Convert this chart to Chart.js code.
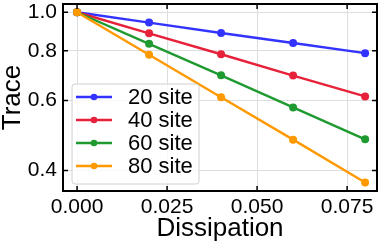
<!DOCTYPE html>
<html>
<head>
<meta charset="utf-8">
<script src="https://cdn.jsdelivr.net/npm/chart.js@4.4.0/dist/chart.umd.min.js"></script>
<style>
html, body { margin: 0; padding: 0; background: #fff; }
#wrap { width: 382px; height: 246px; }
</style>
</head>
<body>
<div id="wrap"><canvas id="chart" width="382" height="246"></canvas></div>
<script>
'use strict';

// ── Datos ────────────────────────────────────────────────
const dissipation = [0, 0.02, 0.04, 0.06, 0.08];
const seriesLabels = ['20 site', '40 site', '60 site', '80 site'];
const trace20 = [1.0, 0.942, 0.887, 0.837, 0.789];
const trace40 = [1.0, 0.885, 0.784, 0.693, 0.614];
const trace60 = [1.0, 0.833, 0.694, 0.576, 0.479];
const trace80 = [1.0, 0.782, 0.611, 0.478, 0.373];
const xTicks = [0, 0.025, 0.05, 0.075];
const yTicks = [0.4, 0.6, 0.8, 1.0];

const seriesColors = ['#3333ff', '#e8213a', '#1f9a30', '#ff9900'];
const FONT = "'Liberation Sans', Arial, sans-serif";

const seriesValues = [trace20, trace40, trace60, trace80];

// ── Marco con ticks hacia dentro ─────────────────────────
const frameTicks = {
    id: 'frameTicks',
    afterDatasetsDraw(chart) {
        const { ctx, chartArea: a, scales: { x, y } } = chart;
        const len = 5;
        ctx.save();
        ctx.strokeStyle = '#000';
        ctx.lineWidth = 1.5;
        ctx.beginPath();
        xTicks.forEach(v => {
            const px = x.getPixelForValue(v);
            ctx.moveTo(px, a.bottom); ctx.lineTo(px, a.bottom - len);
            ctx.moveTo(px, a.top); ctx.lineTo(px, a.top + len);
        });
        yTicks.forEach(v => {
            const py = y.getPixelForValue(v);
            ctx.moveTo(a.left, py); ctx.lineTo(a.left + len, py);
            ctx.moveTo(a.right, py); ctx.lineTo(a.right - len, py);
        });
        ctx.stroke();
        ctx.lineWidth = 2;
        ctx.strokeRect(a.left, a.top, a.right - a.left, a.bottom - a.top);
        ctx.restore();
    }
};

// ── Leyenda dentro del área ──────────────────────────────
const insideLegend = {
    id: 'insideLegend',
    afterDraw(chart) {
        const { ctx, chartArea: a } = chart;
        const bx = a.left + 9, by = a.top + 80, bw = 127, bh = 100;
        ctx.save();
        ctx.beginPath();
        ctx.roundRect(bx, by, bw, bh, 3);
        ctx.fillStyle = 'rgba(255,255,255,0.8)';
        ctx.fill();
        ctx.strokeStyle = '#d0d0d0';
        ctx.lineWidth = 1;
        ctx.stroke();
        ctx.font = '22px ' + FONT;
        ctx.textBaseline = 'middle';
        seriesLabels.forEach((label, i) => {
            const ry = by + 13 + i * 23;
            ctx.strokeStyle = seriesColors[i];
            ctx.fillStyle = seriesColors[i];
            ctx.lineWidth = 2.4;
            ctx.beginPath();
            ctx.moveTo(bx + 4, ry); ctx.lineTo(bx + 40, ry);
            ctx.stroke();
            ctx.beginPath();
            ctx.arc(bx + 22, ry, 3.3, 0, Math.PI * 2);
            ctx.fill();
            ctx.fillStyle = '#000';
            ctx.fillText(label, bx + 56, ry + 1);
        });
        ctx.restore();
    }
};

new Chart(document.getElementById('chart'), {
    type: 'line',
    data: {
        datasets: seriesLabels.map((label, i) => ({
            label,
            data: dissipation.map((d, j) => ({ x: d, y: seriesValues[i][j] })),
            borderColor: seriesColors[i],
            backgroundColor: seriesColors[i],
            borderWidth: 2.4,
            pointRadius: 4,
            pointHoverRadius: 4,
            pointBorderWidth: 0,
            order: seriesLabels.length - i,
        }))
    },
    options: {
        responsive: false,
        animation: false,
        devicePixelRatio: 1,
        layout: { padding: { top: 2, right: 5, left: 0, bottom: 0 } },
        plugins: { legend: { display: false }, tooltip: { enabled: false } },
        scales: {
            x: {
                type: 'linear',
                min: -0.0039,
                max: 0.0833,
                afterBuildTicks: s => { s.ticks = xTicks.map(v => ({ value: v })); },
                afterFit: s => { s.height = 55; s.paddingLeft = 0; s.paddingRight = 0; },
                ticks: {
                    callback: v => v.toFixed(3),
                    color: '#000',
                    font: { family: FONT, size: 21 },
                    padding: 4,
                    maxRotation: 0,
                },
                grid: { color: '#dedede', lineWidth: 1, drawTicks: false },
                border: { display: false },
                title: {
                    display: true,
                    text: 'Dissipation',
                    color: '#000',
                    font: { family: FONT, size: 26, lineHeight: 1 },
                    padding: { top: 0, bottom: 4 },
                },
            },
            y: {
                type: 'logarithmic',
                min: 0.355,
                max: 1.049,
                afterBuildTicks: s => { s.ticks = yTicks.map(v => ({ value: v })); },
                afterFit: s => { s.width = 63; s.paddingTop = 0; s.paddingBottom = 0; },
                ticks: {
                    callback: v => Number(v).toFixed(1),
                    color: '#000',
                    font: { family: FONT, size: 21 },
                    padding: 6,
                },
                grid: { color: '#dedede', lineWidth: 1, drawTicks: false },
                border: { display: false },
                title: {
                    display: true,
                    text: 'Trace',
                    color: '#000',
                    font: { family: FONT, size: 26, lineHeight: 1 },
                    padding: { top: 0, bottom: 0 },
                },
            },
        },
    },
    plugins: [frameTicks, insideLegend],
});
</script>
</body>
</html>
